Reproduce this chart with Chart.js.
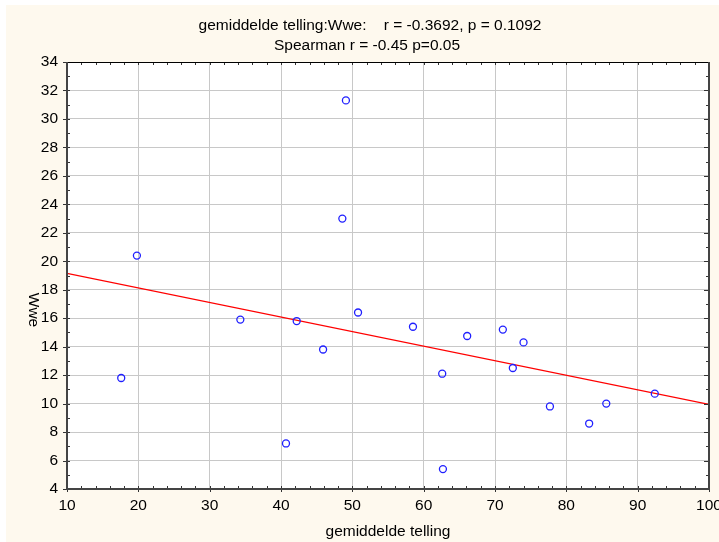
<!DOCTYPE html>
<html>
<head>
<meta charset="utf-8">
<script src="https://cdn.jsdelivr.net/npm/chart.js@4.4.1/dist/chart.umd.min.js"></script>
<style>
  body { margin: 0; background: #ffffff; }
  canvas { display: block; }
</style>
</head>
<body>
<canvas id="myChart" width="719" height="542"></canvas>
<script>
// data
var telling = [17.6, 19.8, 34.3, 40.7, 42.2, 45.9, 48.6, 49.1, 50.8, 58.5,
               62.6, 62.7, 66.1, 71.1, 72.5, 74.0, 77.7, 83.2, 85.6, 92.4];
var wwe     = [11.8, 20.4, 15.9, 7.2, 15.8, 13.8, 23.0, 31.3, 16.4, 15.4,
               12.1, 5.4, 14.75, 15.2, 12.5, 14.3, 9.8, 8.6, 10.0, 10.7];
var fitX = [10, 100];
var fitY = [19.15, 9.95];
var xRange = [10, 100];
var yRange = [4, 34];

var titleLines = ["gemiddelde telling:Wwe:    r = -0.3692, p = 0.1092",
                  "Spearman r = -0.45 p=0.05"];
var xTitle = "gemiddelde telling";
var yTitle = "Wwe";

var fontFam = "'Liberation Sans', Arial, sans-serif";

var points = [];
for (var i = 0; i < telling.length; i++) {
  points.push({x: telling[i], y: wwe[i]});
}
var fitLine = [];
for (var j = 0; j < fitX.length; j++) {
  fitLine.push({x: fitX[j], y: fitY[j]});
}

/* background + frame + texts */
var decor = {
  id: 'decor',
  beforeDraw: function(chart) {
    var ctx = chart.ctx;
    var a = chart.chartArea;
    ctx.save();
    ctx.fillStyle = '#ffffff';
    ctx.fillRect(0, 0, chart.width, chart.height);
    ctx.fillStyle = '#fef9ee';
    ctx.fillRect(6, 5, chart.width - 6, chart.height - 5);
    ctx.fillStyle = '#ffffff';
    ctx.fillRect(a.left, a.top, a.right - a.left, a.bottom - a.top);
    ctx.restore();
  },
  afterDraw: function(chart) {
    var ctx = chart.ctx;
    var a = chart.chartArea;
    var xs = chart.scales.x;
    var ys = chart.scales.y;
    var v;
    ctx.save();

    // ticks
    ctx.strokeStyle = '#333333';
    ctx.lineWidth = 1;
    ctx.beginPath();
    for (v = xRange[0]; v <= xRange[1]; v += 2) {
      var px = Math.round(xs.getPixelForValue(v)) + 0.5;
      var major = (v % 10 === 0);
      ctx.moveTo(px, a.bottom + (major ? 3 : 0));
      ctx.lineTo(px, a.bottom - 3);
      ctx.moveTo(px, a.top);
      ctx.lineTo(px, a.top + 3);
    }
    for (v = yRange[0]; v <= yRange[1]; v += 1) {
      var py = Math.round(ys.getPixelForValue(v)) + 0.5;
      var maj = (v % 2 === 0);
      ctx.moveTo(a.left - (maj ? 4 : 0), py);
      ctx.lineTo(a.left + 3, py);
      ctx.moveTo(a.right, py);
      ctx.lineTo(a.right - (maj ? 5 : 3), py);
    }
    ctx.stroke();

    // frame
    ctx.strokeStyle = '#000000';
    ctx.lineWidth = 1;
    ctx.beginPath();
    ctx.moveTo(a.left, a.top + 0.5);
    ctx.lineTo(a.right, a.top + 0.5);
    ctx.stroke();
    ctx.strokeStyle = '#444444';
    ctx.lineWidth = 2;
    ctx.beginPath();
    ctx.moveTo(a.left, a.top);
    ctx.lineTo(a.left, a.bottom);
    ctx.lineTo(a.right, a.bottom);
    ctx.lineTo(a.right, a.top);
    ctx.stroke();

    // texts
    ctx.fillStyle = '#000000';
    ctx.font = '15.5px ' + fontFam;
    ctx.textAlign = 'center';
    ctx.textBaseline = 'alphabetic';
    ctx.fillText(titleLines[0], 370, 30);
    ctx.fillText(titleLines[1], 367, 49.5);
    ctx.fillText(xTitle, (a.left + a.right) / 2, 536);

    ctx.translate(33, 310);
    ctx.rotate(Math.PI / 2);
    ctx.textBaseline = 'middle';
    ctx.fillText(yTitle, 0, 0);
    ctx.restore();
  }
};

var canvas = document.getElementById('myChart');
var chart = new Chart(canvas, {
  type: 'scatter',
  data: {
    datasets: [
      {
        label: 'Wwe',
        data: points,
        pointStyle: 'circle',
        pointRadius: 3.5,
        pointBorderWidth: 1.3,
        borderColor: '#1f1fff',
        backgroundColor: 'rgba(0,0,0,0)',
        pointBackgroundColor: 'rgba(0,0,0,0)',
        order: 1
      },
      {
        type: 'line',
        label: 'fit',
        data: fitLine,
        showLine: true,
        borderColor: '#ff0000',
        borderWidth: 1.2,
        pointRadius: 0,
        fill: false,
        order: 2
      }
    ]
  },
  options: {
    responsive: false,
    animation: false,
    devicePixelRatio: 1,
    layout: {
      autoPadding: false,
      padding: { left: 0, right: 10, top: 62, bottom: 0 }
    },
    plugins: {
      legend: { display: false },
      title: { display: false },
      tooltip: { enabled: false }
    },
    scales: {
      x: {
        type: 'linear',
        min: xRange[0],
        max: xRange[1],
        afterFit: function(scale) {
          scale.height = 53;
          scale.paddingLeft = 0;
          scale.paddingRight = 0;
        },
        border: { display: false },
        grid: { color: '#c8c8c8', lineWidth: 1, drawTicks: false },
        ticks: {
          stepSize: 10,
          padding: 7,
          color: '#000000',
          maxRotation: 0,
          font: { family: fontFam, size: 15.5 }
        }
      },
      y: {
        type: 'linear',
        min: yRange[0],
        max: yRange[1],
        afterFit: function(scale) {
          scale.width = 67;
          scale.paddingTop = 0;
          scale.paddingBottom = 0;
        },
        border: { display: false },
        grid: { color: '#c8c8c8', lineWidth: 1, drawTicks: false },
        ticks: {
          stepSize: 2,
          padding: 9,
          color: '#000000',
          font: { family: fontFam, size: 15.5 }
        }
      }
    }
  },
  plugins: [decor]
});
</script>
</body>
</html>
